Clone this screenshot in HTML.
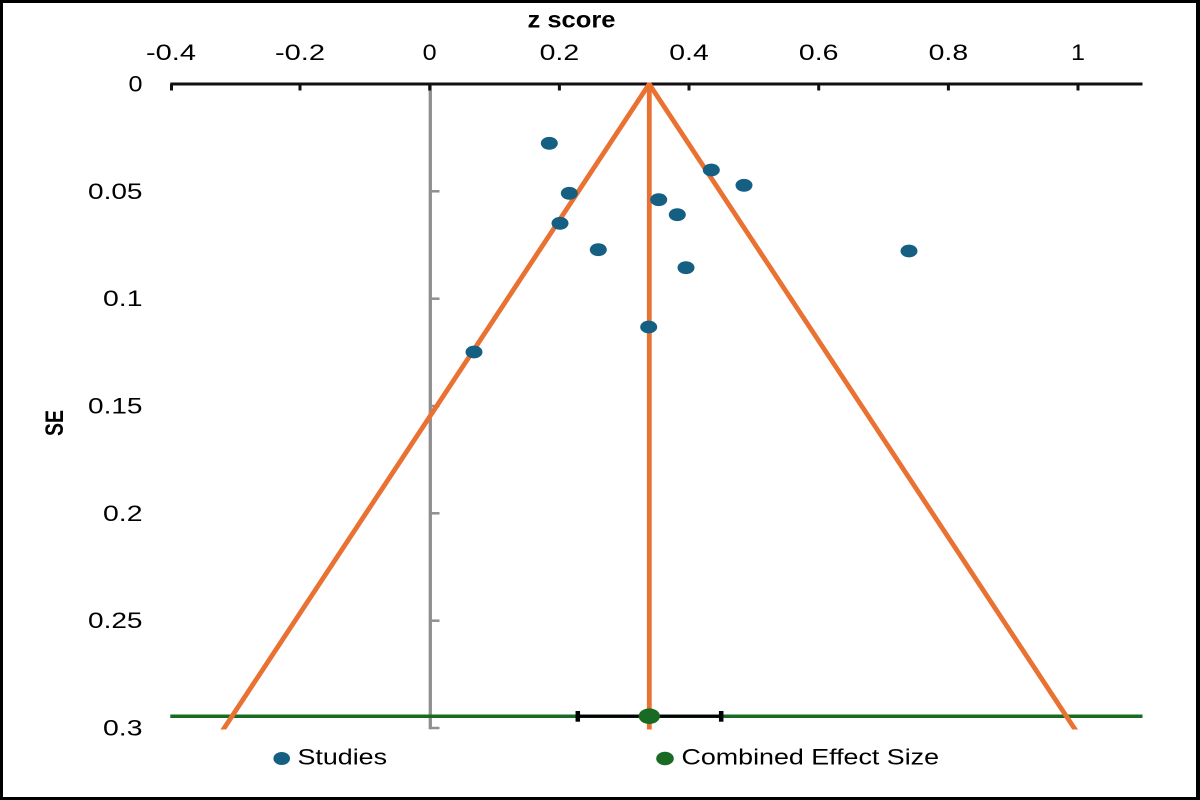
<!DOCTYPE html>
<html>
<head>
<meta charset="utf-8">
<style>
  html, body { margin: 0; padding: 0; background: #fff; }
  svg { display: block; }
  text { font-family: "Liberation Sans", Arial, sans-serif; fill: #000; }
</style>
</head>
<body>
<svg width="1200" height="800" viewBox="0 0 1200 800" xmlns="http://www.w3.org/2000/svg">
  <defs>
    <clipPath id="plotclip">
      <rect x="0" y="82.5" width="1200" height="647"/>
    </clipPath>
  </defs>
  <rect x="0" y="0" width="1200" height="800" fill="#ffffff"/>

  <!-- axis title -->
  <text x="527.5" y="27.5" font-size="23" font-weight="bold" textLength="88" lengthAdjust="spacingAndGlyphs">z score</text>

  <!-- top tick labels -->
  <g font-size="22" text-anchor="middle">
    <text x="171" y="60" textLength="50" lengthAdjust="spacingAndGlyphs">-0.4</text>
    <text x="300" y="60" textLength="50" lengthAdjust="spacingAndGlyphs">-0.2</text>
    <text x="429.7" y="60" textLength="14" lengthAdjust="spacingAndGlyphs">0</text>
    <text x="559.4" y="60" textLength="39.5" lengthAdjust="spacingAndGlyphs">0.2</text>
    <text x="689" y="60" textLength="39.5" lengthAdjust="spacingAndGlyphs">0.4</text>
    <text x="818.7" y="60" textLength="39.5" lengthAdjust="spacingAndGlyphs">0.6</text>
    <text x="948.4" y="60" textLength="39.5" lengthAdjust="spacingAndGlyphs">0.8</text>
    <text x="1078" y="60" textLength="14" lengthAdjust="spacingAndGlyphs">1</text>
  </g>

  <!-- y tick labels -->
  <g font-size="22" text-anchor="end">
    <text x="142.5" y="91.5" textLength="14" lengthAdjust="spacingAndGlyphs">0</text>
    <text x="142.5" y="198.8" textLength="54.5" lengthAdjust="spacingAndGlyphs">0.05</text>
    <text x="142.5" y="306.2" textLength="39.5" lengthAdjust="spacingAndGlyphs">0.1</text>
    <text x="142.5" y="413.5" textLength="54.5" lengthAdjust="spacingAndGlyphs">0.15</text>
    <text x="142.5" y="520.8" textLength="39.5" lengthAdjust="spacingAndGlyphs">0.2</text>
    <text x="142.5" y="628.2" textLength="54.5" lengthAdjust="spacingAndGlyphs">0.25</text>
    <text x="142.5" y="735.5" textLength="39.5" lengthAdjust="spacingAndGlyphs">0.3</text>
  </g>

  <!-- SE title -->
  <text transform="translate(63,423) rotate(-90)" font-size="25" font-weight="bold" text-anchor="middle" textLength="26" lengthAdjust="spacingAndGlyphs">SE</text>

  <!-- gray vertical axis at z=0 -->
  <g stroke="#8f8f8f" fill="none">
    <line x1="430.3" y1="84" x2="430.3" y2="729.3" stroke-width="3.3"/>
    <line x1="430" y1="191.3" x2="439.5" y2="191.3" stroke-width="2.5"/>
    <line x1="430" y1="298.7" x2="439.5" y2="298.7" stroke-width="2.5"/>
    <line x1="430" y1="406" x2="439.5" y2="406" stroke-width="2.5"/>
    <line x1="430" y1="513.3" x2="439.5" y2="513.3" stroke-width="2.5"/>
    <line x1="430" y1="620.7" x2="439.5" y2="620.7" stroke-width="2.5"/>
    <line x1="430" y1="728" x2="439.5" y2="728" stroke-width="2.5"/>
  </g>

  <!-- top axis -->
  <g stroke="#111" fill="none">
    <line x1="170.3" y1="84" x2="1142.5" y2="84" stroke-width="3"/>
    <line x1="171.5" y1="84" x2="171.5" y2="90.5" stroke-width="3"/>
    <line x1="300" y1="84" x2="300" y2="90.5" stroke-width="3"/>
    <line x1="429.7" y1="84" x2="429.7" y2="90.5" stroke-width="3"/>
    <line x1="559.4" y1="84" x2="559.4" y2="90.5" stroke-width="3"/>
    <line x1="689" y1="84" x2="689" y2="90.5" stroke-width="3"/>
    <line x1="818.7" y1="84" x2="818.7" y2="90.5" stroke-width="3"/>
    <line x1="948.4" y1="84" x2="948.4" y2="90.5" stroke-width="3"/>
    <line x1="1078" y1="84" x2="1078" y2="90.5" stroke-width="3"/>
  </g>

  <!-- green combined line -->
  <line x1="170.3" y1="716.2" x2="1142.5" y2="716.2" stroke="#196B24" stroke-width="3.5"/>

  <!-- error bar -->
  <g stroke="#000" fill="none">
    <line x1="577.3" y1="716.2" x2="721.7" y2="716.2" stroke-width="3.2"/>
    <line x1="577.8" y1="711" x2="577.8" y2="721.7" stroke-width="4.5"/>
    <line x1="721.2" y1="711" x2="721.2" y2="721.7" stroke-width="4.5"/>
  </g>

  <!-- orange funnel -->
  <g clip-path="url(#plotclip)" stroke="#E97132" fill="none" stroke-width="4.8">
    <polyline points="220.3,734 649.2,84 1078.1,734" stroke-linejoin="miter" stroke-miterlimit="10"/>
    <line x1="649.3" y1="84" x2="649.3" y2="734"/>
  </g>

  <!-- combined dot -->
  <ellipse cx="649.3" cy="716.2" rx="10.7" ry="7.8" fill="#196B24"/>

  <!-- studies -->
  <g fill="#156082">
    <ellipse cx="549.3" cy="143.3" rx="8.5" ry="6.4"/>
    <ellipse cx="711.3" cy="170" rx="8.5" ry="6.4"/>
    <ellipse cx="744" cy="185.3" rx="8.5" ry="6.4"/>
    <ellipse cx="569.3" cy="193.3" rx="8.5" ry="6.4"/>
    <ellipse cx="658.7" cy="199.7" rx="8.5" ry="6.4"/>
    <ellipse cx="677.3" cy="214.7" rx="8.5" ry="6.4"/>
    <ellipse cx="560" cy="223.3" rx="8.5" ry="6.4"/>
    <ellipse cx="598.3" cy="249.7" rx="8.5" ry="6.4"/>
    <ellipse cx="686" cy="267.7" rx="8.5" ry="6.4"/>
    <ellipse cx="909" cy="251" rx="8.5" ry="6.4"/>
    <ellipse cx="648.7" cy="327" rx="8.5" ry="6.4"/>
    <ellipse cx="474" cy="352" rx="8.5" ry="6.4"/>
  </g>

  <!-- legend -->
  <ellipse cx="281.7" cy="758.5" rx="8.3" ry="6.5" fill="#156082"/>
  <text x="297.5" y="764.5" font-size="22.5" textLength="89.5" lengthAdjust="spacingAndGlyphs">Studies</text>
  <ellipse cx="665" cy="758.5" rx="8.8" ry="6.8" fill="#196B24"/>
  <text x="681.5" y="764.5" font-size="22.5" textLength="257.5" lengthAdjust="spacingAndGlyphs">Combined Effect Size</text>

  <!-- border -->
  <rect x="0" y="0" width="1200" height="3" fill="#000"/>
  <rect x="0" y="0" width="3" height="800" fill="#000"/>
  <rect x="1196" y="0" width="4" height="800" fill="#000"/>
  <rect x="0" y="797" width="1200" height="3" fill="#000"/>
</svg>
</body>
</html>
